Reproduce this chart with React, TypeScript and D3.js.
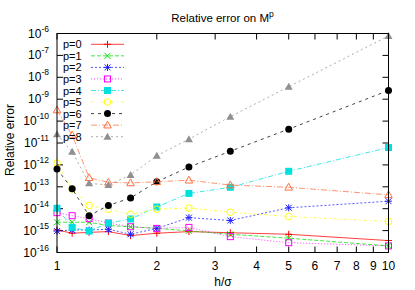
import React from "react";
import * as d3 from "d3";

const hValues = [1, 1.111, 1.25, 1.429, 1.667, 2, 2.5, 3.333, 5, 10];
const p0 = [1.07e-15, 7.6e-16, 8.3e-16, 9e-16, 5.9e-16, 7.6e-16, 9e-16, 8e-16, 6.8e-16, 3.5e-16];
const p1 = [2.4e-15, 2.4e-15, 2.4e-15, 1.7e-15, 1.5e-15, 1.26e-15, 9.8e-16, 6.8e-16, 4.5e-16, 2e-16];
const p2 = [9.5e-16, 1.07e-15, 1.07e-15, 1.15e-15, 6.8e-16, 1.26e-15, 3.9e-15, 2.9e-15, 1.1e-14, 2.2e-14];
const p3 = [6.6e-15, 4.8e-15, 3.5e-15, 2.2e-15, 1.5e-15, 1.26e-15, 1.4e-15, 5.3e-16, 2.8e-16, 2e-16];
const p4 = [1.05e-14, 1.4e-15, 9.5e-16, 2.2e-15, 3.4e-15, 1.2e-14, 5e-14, 9.5e-14, 5.1e-13, 6.2e-12];
const p5 = [1.2e-12, 8e-14, 1.4e-14, 9.3e-15, 5.5e-15, 9.5e-15, 1.07e-14, 6.9e-15, 4.4e-15, 2.6e-15];
const p6 = [6.5e-13, 8.1e-14, 4.8e-15, 1.4e-14, 3.1e-14, 1.7e-13, 8e-13, 4.2e-12, 4.3e-11, 2.5e-9];
const p7 = [3.2e-10, 2.3e-11, 2.6e-13, 1.6e-13, 1.5e-13, 1.7e-13, 2e-13, 1.2e-13, 9.5e-14, 4.3e-14];
const p8 = [2.5e-11, 4e-12, 1.45e-13, 1.2e-13, 3.5e-13, 2.6e-12, 1.5e-11, 1.6e-10, 3.7e-9, 7.7e-7];

const seriesNames = ["p=0", "p=1", "p=2", "p=3", "p=4", "p=5", "p=6", "p=7", "p=8"];
const seriesValues = [p0, p1, p2, p3, p4, p5, p6, p7, p8];
const xTickValues = [1, 2, 3, 4, 5, 6, 7, 8, 9, 10];
const yTickExponents = [-16, -15, -14, -13, -12, -11, -10, -9, -8, -7, -6];

const colors = ["#ff0000", "#00e000", "#2020ff", "#ff00ff", "#00e0e0", "#ffff00", "#000000", "#ff7040", "#909090"];
const dashes = ["", "4,2", "2,2", "1,2", "5,2,1,2", "3,3,1,3", "3,4", "6,2,1,2", "2,3"];
const markers = ["plus", "cross", "star", "square", "fsquare", "circle", "fcircle", "triangle", "ftriangle"];

const W = 415;
const H = 290;
const left = 57;
const right = 388.5;
const top = 33.5;
const bottom = 252.5;
const FONT = "'Liberation Sans', Arial, sans-serif";

function Marker({ type, x, y, color }: { type: string; x: number; y: number; color: string }) {
  const s = 3.5;
  switch (type) {
    case "plus":
      return <path d={`M${x - s},${y}H${x + s}M${x},${y - s}V${y + s}`} stroke={color} strokeWidth={1} fill="none" />;
    case "cross":
      return <path d={`M${x - 3},${y - 3}L${x + 3},${y + 3}M${x - 3},${y + 3}L${x + 3},${y - 3}`} stroke={color} strokeWidth={1} fill="none" />;
    case "star":
      return (
        <path
          d={`M${x - s},${y}H${x + s}M${x},${y - s}V${y + s}M${x - 3},${y - 3}L${x + 3},${y + 3}M${x - 3},${y + 3}L${x + 3},${y - 3}`}
          stroke={color}
          strokeWidth={1}
          fill="none"
        />
      );
    case "square":
      return <rect x={x - 3} y={y - 3} width={6} height={6} stroke={color} strokeWidth={1} fill="none" />;
    case "fsquare":
      return <rect x={x - 3.5} y={y - 3.5} width={7} height={7} fill={color} />;
    case "circle":
      return <circle cx={x} cy={y} r={3.3} stroke={color} strokeWidth={1} fill="none" />;
    case "fcircle":
      return <circle cx={x} cy={y} r={3.5} fill={color} />;
    case "triangle":
      return <path d={`M${x},${y - 4}L${x + 3.8},${y + 2.8}L${x - 3.8},${y + 2.8}Z`} stroke={color} strokeWidth={1} fill="none" />;
    case "ftriangle":
      return <path d={`M${x},${y - 4}L${x + 4},${y + 3}L${x - 4},${y + 3}Z`} fill={color} />;
    default:
      return null;
  }
}

export default function App() {
  const xScale = d3.scaleLog().domain([1, 10]).range([left, right]);
  const yScale = d3.scaleLog().domain([1e-16, 1e-6]).range([bottom, top]);
  const line = d3
    .line<number>()
    .x((_, i) => xScale(hValues[i]))
    .y((d) => yScale(d));

  const legendX = 63;
  const legendY0 = 44.3;
  const legendDy = 11.55;

  return (
    <svg
      width={W}
      height={H}
      style={{ position: "absolute", left: 0, top: 0, background: "#fff" }}
      fontFamily={FONT}
    >
      <rect x={0} y={0} width={W} height={H} fill="#fff" />
      <text x={222.5} y={22} textAnchor="middle" fontSize={11.5} fill="#000">
        Relative error on M<tspan fontSize={8.5} dy={-5}>p</tspan>
      </text>
      {xTickValues.map((v) => (
        <g key={"xt" + v}>
          <line x1={xScale(v)} x2={xScale(v)} y1={bottom} y2={bottom - 6} stroke="#000" />
          <line x1={xScale(v)} x2={xScale(v)} y1={top} y2={top + 6} stroke="#000" />
          <text x={xScale(v)} y={270} textAnchor="middle" fontSize={12} fill="#000">
            {v}
          </text>
        </g>
      ))}
      {yTickExponents.map((e) => {
        const y = yScale(Math.pow(10, e));
        return (
          <g key={"yt" + e}>
            <line x1={left} x2={left + 6} y1={y} y2={y} stroke="#000" />
            <line x1={right} x2={right - 6} y1={y} y2={y} stroke="#000" />
            <text x={49} y={y + 4} textAnchor="end" fontSize={12} fill="#000">
              10<tspan fontSize={8.5} dy={-6}>{String(e)}</tspan>
            </text>
          </g>
        );
      })}
      <text x={223} y={286} textAnchor="middle" fontSize={12} fill="#000">
        h/σ
      </text>
      <text transform={`translate(14,140) rotate(-90)`} textAnchor="middle" fontSize={12} fill="#000">
        Relative error
      </text>
      <g>
        {seriesValues.map((vals, k) => (
          <g key={"s" + k}>
            <path d={line(vals) || ""} fill="none" stroke={colors[k]} strokeWidth={1} strokeDasharray={dashes[k]} opacity={0.75} />
            {vals.map((v, i) => (
              <Marker key={i} type={markers[k]} x={xScale(hValues[i])} y={yScale(v)} color={colors[k]} />
            ))}
          </g>
        ))}
      </g>
      {seriesNames.map((name, k) => {
        const y = legendY0 + k * legendDy;
        return (
          <g key={"lg" + k}>
            <text x={legendX} y={y + 4} fontSize={11} fill="#000">
              {name}
            </text>
            <line x1={91} x2={124} y1={y} y2={y} stroke={colors[k]} strokeWidth={1} strokeDasharray={dashes[k]} opacity={0.75} />
            <Marker type={markers[k]} x={107.5} y={y} color={colors[k]} />
          </g>
        );
      })}
      <rect x={left} y={top} width={right - left} height={bottom - top} fill="none" stroke="#000" strokeWidth={1} />
    </svg>
  );
}
